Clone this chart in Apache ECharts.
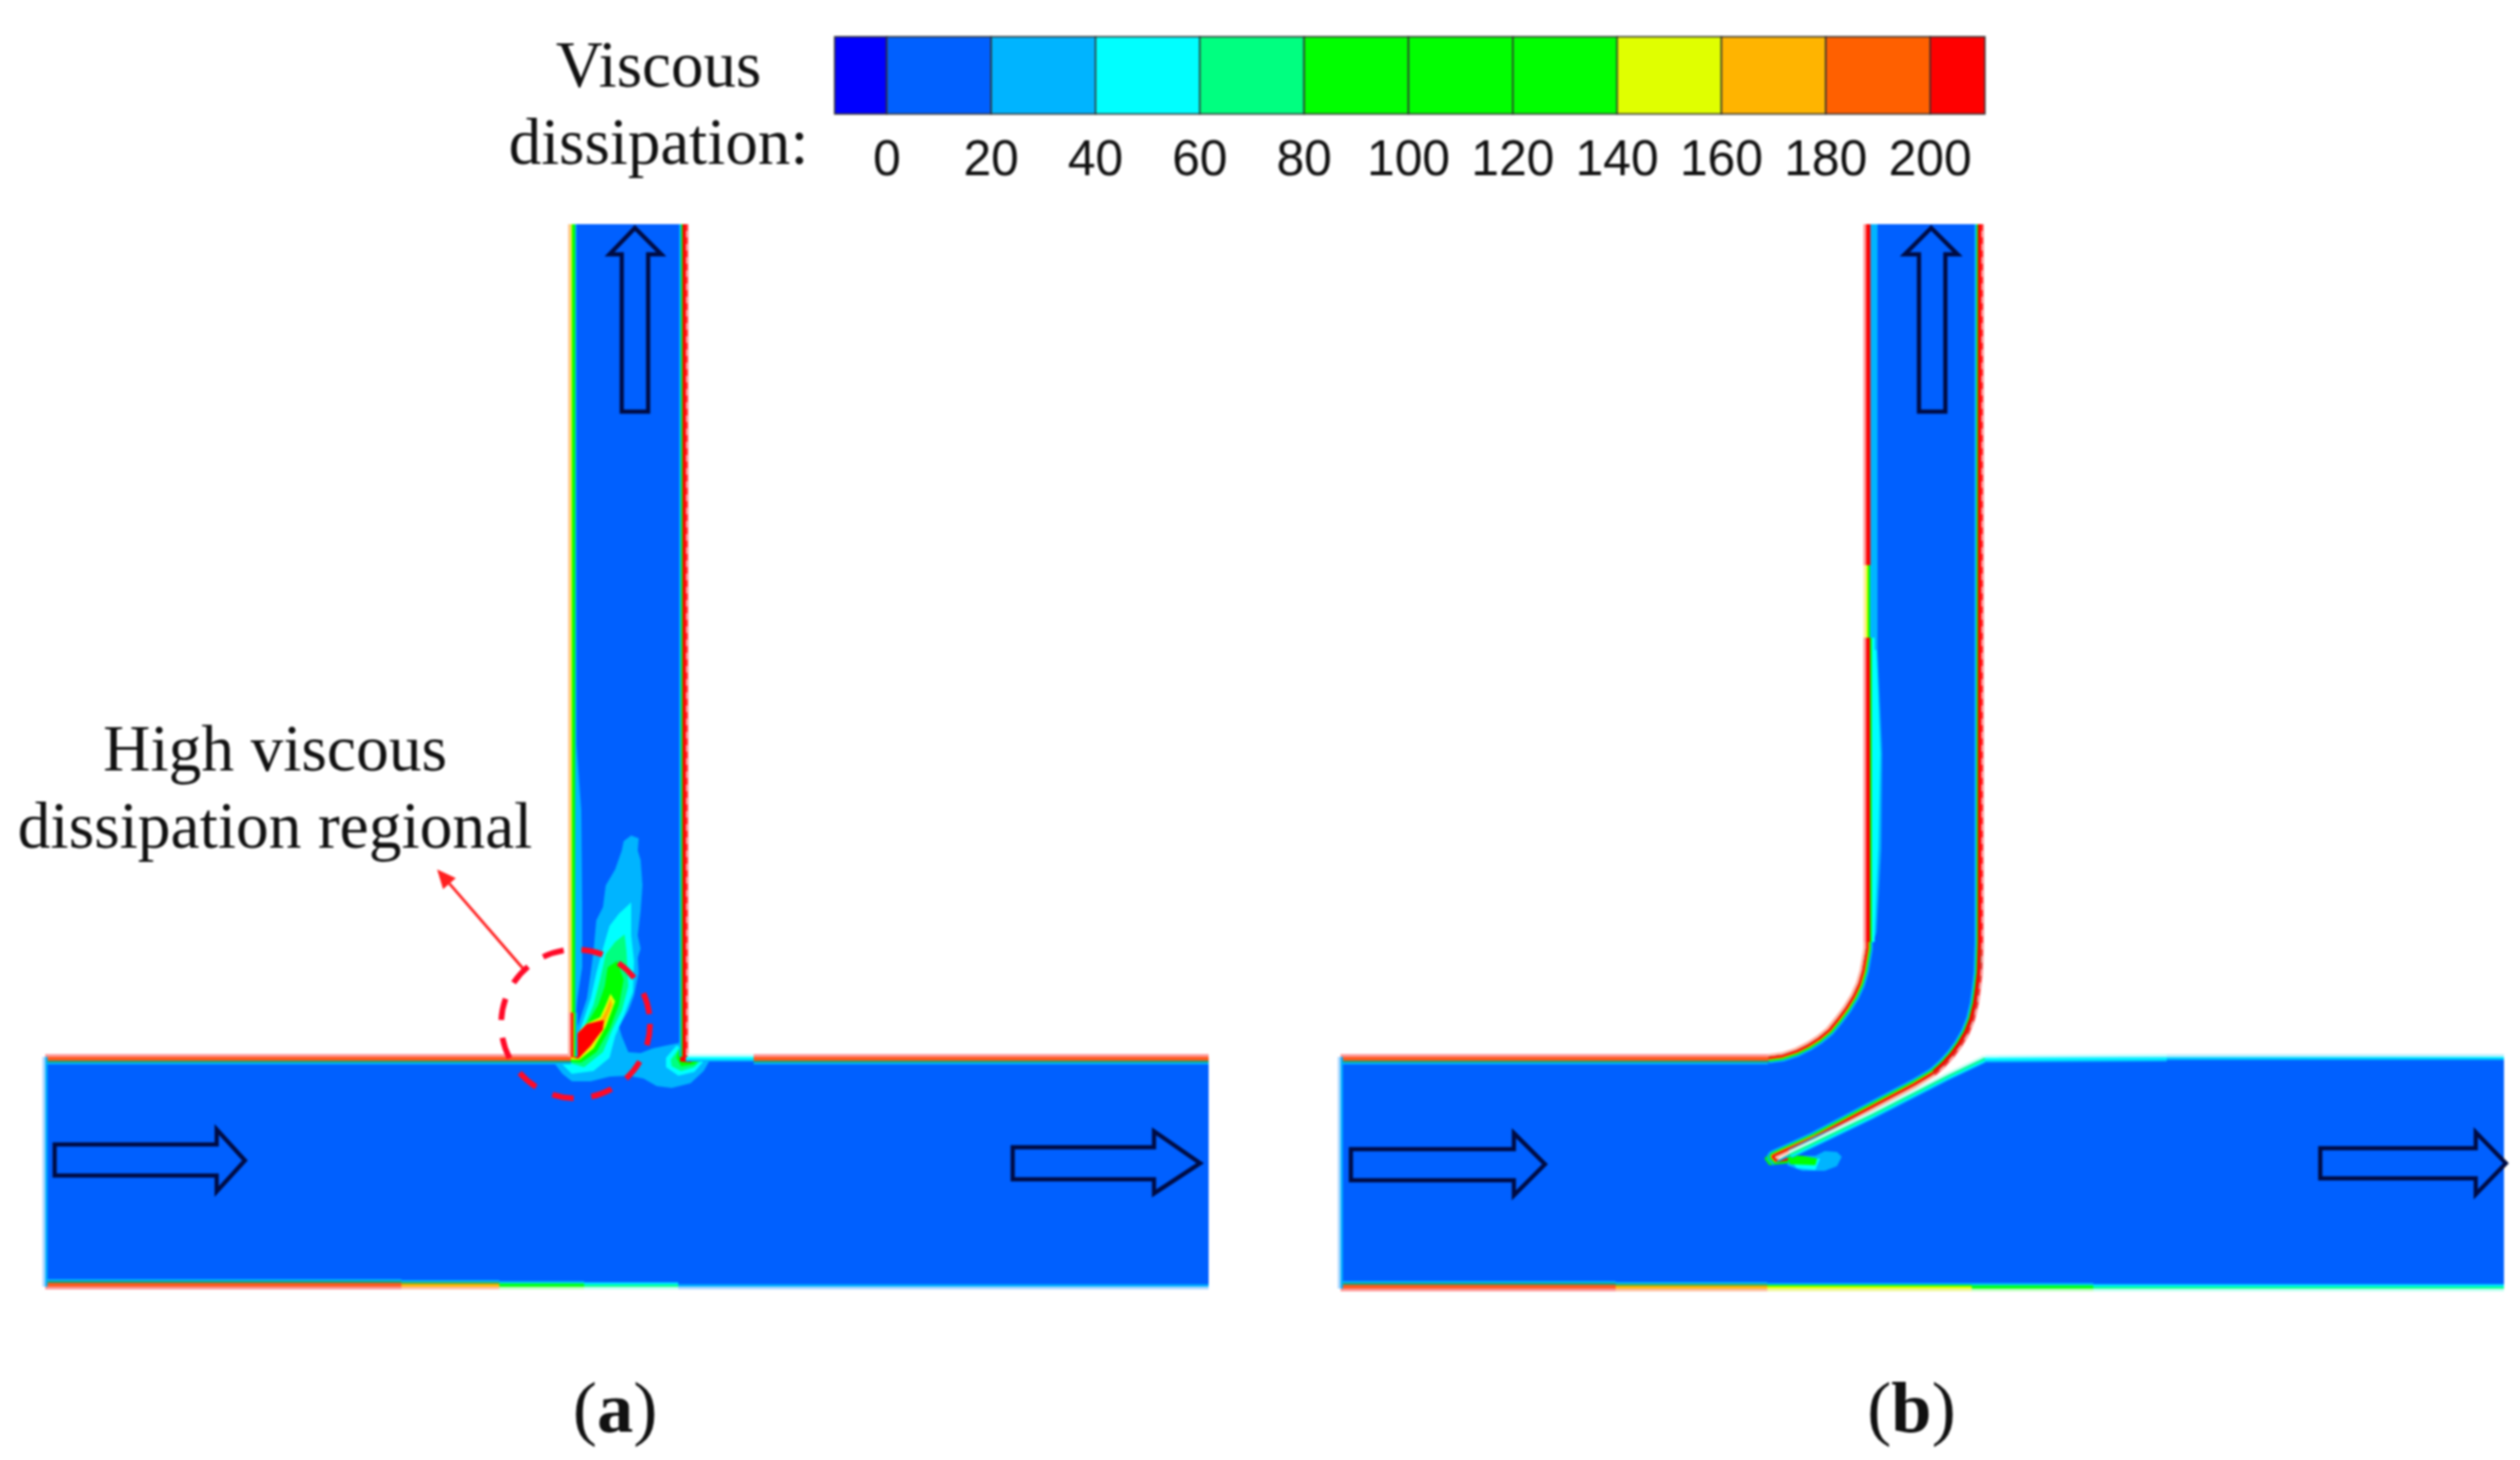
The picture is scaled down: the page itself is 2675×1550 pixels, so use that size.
<!DOCTYPE html>
<html>
<head>
<meta charset="utf-8">
<script src="https://cdn.jsdelivr.net/npm/echarts@6/dist/echarts.min.js"></script>
<style>
html,body{margin:0;padding:0;background:#fff}
#chart{width:2675px;height:1550px;filter:blur(0.8px)}
</style>
</head>
<body>
<div id="chart"></div>
<script>
// ---- colour bar ----
const legendEdges = [-10,0,20,40,60,80,100,120,140,160,180,200,210.5];
const legendColors = ['#0000FF','#0060FF','#00B4FF','#00FFFF','#00FF80','#00FF00','#00FF00','#00FF00','#E0FF00','#FFB400','#FF6000','#FF0000'];
const legendTicks = [0,20,40,60,80,100,120,140,160,180,200];
const legendTitle = 'Viscous\ndissipation:';
const calloutText = 'High viscous\ndissipation regional';

// ---- channel outlines (panel a, panel b) ----
const channelA = [[48,1122],[606,1122],[606,238],[728,238],[728,1122],[1283,1122],[1283,1366],[48,1366]];
const channelB = [[1423,1122],[1877,1122],[1892,1120],[1907,1115],[1919,1109],[1930,1102],[1941,1093],[1950,1082],[1959,1070],[1967,1057],[1973,1044],[1977,1030],[1981,1007],[1981,238],[2103,238],[2103,1000],[2102,1033],[2100,1050],[2098,1065],[2094,1082],[2088,1097],[2081,1109],[2073,1120],[2063,1131],[2053,1140],[2033,1152],[1980,1180],[1927,1208],[1883,1228],[1887,1232],[1900,1225],[1987,1183],[2067,1142],[2107,1123],[2658,1122],[2658,1368],[1423,1368]];

// ---- flow arrows ----
const arrowAUp = [[674,242],[702,270],[688,270],[688,437],[660,437],[660,270],[647,270]];
const arrowAIn = [[58,1215],[230,1215],[230,1199],[260,1232],[230,1265],[230,1248],[58,1248]];
const arrowAOut = [[1075,1218],[1225,1218],[1225,1201],[1274,1235],[1225,1267],[1225,1252],[1075,1252]];
const arrowBUp = [[2050,242],[2078,270],[2065,270],[2065,437],[2037,437],[2037,270],[2022,270]];
const arrowBIn = [[1434,1220],[1607,1220],[1607,1203],[1640,1236],[1607,1269],[1607,1253],[1434,1253]];
const arrowBOut = [[2463,1219],[2628,1219],[2628,1202],[2660,1235],[2628,1268],[2628,1251],[2463,1251]];

// ---- contour regions, panel a: wake plume behind the junction ----
const plumeA20 = [[587,1127],[597,1140],[607,1148],[627,1148],[647,1143],[667,1142],[683,1145],[697,1153],[713,1155],[733,1150],[747,1137],[755,1123],[723,1120],[722,1107],[707,1110],[693,1113],[680,1118],[667,1117],[660,1100],[657,1090],[667,1073],[673,1057],[678,1033],[677,1017],[680,1007],[677,993],[680,967],[682,940],[680,913],[677,903],[678,890],[670,887],[662,893],[660,903],[653,923],[643,940],[640,963],[633,977],[630,1010],[627,1033],[623,1060],[613,1090],[607,1120]];
const plumeA40 = [[597,1130],[607,1140],[630,1137],[647,1123],[653,1100],[663,1077],[672,1053],[673,1020],[670,993],[670,958],[657,970],[647,983],[640,1007],[633,1033],[627,1060],[617,1090],[610,1110]];
const plumeA60 = [[600,1127],[620,1133],[640,1117],[650,1093],[660,1073],[667,1047],[665,1010],[663,992],[653,1000],[643,1013],[637,1040],[630,1067],[620,1090],[610,1107]];
const plumeA80 = [[603,1127],[617,1128],[633,1117],[647,1093],[657,1067],[662,1040],[655,1020],[645,1027],[642,1047],[635,1067],[623,1087],[612,1103]];
const plumeA140 = [[605,1125],[615,1125],[630,1113],[643,1090],[653,1063],[648,1055],[643,1067],[637,1080],[622,1087],[610,1100]];
const plumeA160 = [[606,1123],[613,1123],[627,1112],[640,1090],[650,1067],[648,1060],[643,1073],[638,1082],[622,1088],[611,1101]];
const plumeA180 = [[606,1122],[614,1124],[627,1110],[640,1093],[641,1083],[623,1087],[612,1098],[608,1085]];
const cornerA40 = [[718,1110],[707,1123],[707,1133],[720,1142],[737,1138],[750,1123]];
const cornerA60 = [[721,1113],[712,1125],[713,1132],[723,1137],[737,1133],[747,1123]];
const cornerA80 = [[722,1110],[718,1123],[723,1132],[737,1130],[745,1123]];
const cornerA180 = [[722,1117],[722,1127],[733,1128],[742,1123],[728,1122]];
const stripA20 = [[606,238],[612,238],[612,790],[617,860],[618,960],[618,1027],[613,1060],[610,1093],[606,1100]];

// ---- contour regions, panel b ----
const stripB20 = [[1981,238],[1993,238],[1993,690],[1998,800],[1997,900],[1992,990],[1985,1010]];
const stripB40 = [[1981,690],[1992,690],[1996,800],[1994,900],[1990,990],[1982,1000]];
const tipB20 = [[1897,1237],[1913,1243],[1937,1243],[1950,1238],[1955,1228],[1950,1223],[1937,1222],[1927,1227],[1900,1227]];
const tipB40 = [[1900,1230],[1907,1240],[1927,1242],[1932,1230]];
const tipB80 = [[1897,1227],[1900,1236],[1927,1237],[1929,1230],[1913,1227]];
const tipBRing = [[1873,1230],[1878,1237],[1898,1235],[1900,1225],[1880,1222]];
const tipBCore = [[1878,1228],[1880,1235],[1898,1232],[1897,1227]];

// ---- wall boundary layers, panel a ----
const wallATopLeft = [[48,1122],[606,1122]];
const wallALeft = [[606,238],[606,1075]];
const wallALeftCorner = [[606,1075],[606,1122]];
const wallARight = [[728,238],[728,1122]];
const wallATopCold = [[728,1122],[800,1122]];
const wallATopHot = [[800,1122],[1283,1122]];
const wallABottom180 = [[48,1366],[426,1366]];
const wallABottom150 = [[426,1366],[530,1366]];
const wallABottom90 = [[530,1366],[620,1366]];
const wallABottom50 = [[620,1366],[720,1366]];
const wallABottom20 = [[720,1366],[1283,1366]];
const wallAInlet = [[48,1122],[48,1366]];

// ---- wall boundary layers, panel b ----
const wallBTopLeft = [[1423,1122],[1877,1122]];
const wallBFillet = [[1877,1122],[1892,1120],[1907,1115],[1919,1109],[1930,1102],[1941,1093],[1950,1082],[1959,1070],[1967,1057],[1973,1044],[1977,1030],[1981,1007],[1981,1000]];
const wallBLeftLow = [[1981,1000],[1981,677]];
const wallBLeftMid = [[1981,677],[1981,600]];
const wallBLeftHigh = [[1981,600],[1981,238]];
const wallBRight = [[2103,238],[2103,1000],[2102,1033],[2100,1050],[2098,1065],[2094,1082],[2088,1097],[2081,1109],[2073,1120],[2063,1131],[2053,1140]];
const wallBSliverUp = [[2053,1140],[2033,1152],[1980,1180],[1927,1208],[1883,1228],[1887,1232]];
const wallBSliverLow = [[1900,1225],[1987,1183],[2067,1142],[2107,1123]];
const wallBTopCold = [[2107,1123],[2300,1122]];
const wallBTopPale = [[2300,1122],[2658,1122]];
const wallBBottom180 = [[1423,1368],[1715,1368]];
const wallBBottom170 = [[1715,1368],[1876,1368]];
const wallBBottom150 = [[1876,1368],[2093,1368]];
const wallBBottom90 = [[2093,1368],[2222,1368]];
const wallBBottom50 = [[2222,1368],[2658,1368]];
const wallBInlet = [[1423,1122],[1423,1368]];

// ---- annotation ----
const leader = [[555,1028],[464,923]];
const regionCenter = [611,1087];

// ---------------- drawing ----------------
const LB='#00B4FF',CY='#00FFFF',MI='#00FF80',GR='#00FF00',YE='#E0FF00',OR='#FFB400',OD='#FF6000',RD='#FF0000',BLUE='#0060FF';
const STACKS = {
  hot:   {halo:'#FF9A9A', bands:[[LB,8],['#1B9E6B',6],['#FF5A1E',4]]},
  red:   {halo:'#FF9A9A', bands:[[LB,7],[GR,5],[RD,3.5]]},
  redLb: {halo:'#FF9A9A', bands:[[LB,10],[RD,4.5]]},
  redCy: {halo:'#FF9A9A', bands:[[CY,9],[GR,6],[RD,4]]},
  warm:  {halo:'#FFB0A0', bands:[[LB,7],[GR,5],[OR,3.2],[RD,2.2]]},
  leftG: {halo:'#FFC890', bands:[[GR,4.5],[YE,1.2]]},
  leftY: {halo:'#FFF0A0', bands:[[GR,4],[YE,1.8]]},
  orange:{halo:'#FFC0A0', bands:[[LB,7],['#3CB050',5],[OR,3]]},
  yellow:{halo:'#F0F8A0', bands:[[LB,6],[GR,4],[YE,2.5]]},
  green: {halo:'#C0FFC0', bands:[[LB,6],[MI,4],[GR,2.5]]},
  mint:  {halo:'#C0FFF0', bands:[[LB,5],[CY,3.5],[MI,2]]},
  cyan:  {halo:'#C0FFFF', bands:[[LB,5],[CY,3]]},
  thinCy:{halo:'#C0F0FF', bands:[[LB,3.5],[CY,1.5]]},
  pale:  {halo:'#B0D8FF', bands:[[LB,2.5]]}
};
const halos=[], body=[];
function fill(pts,color,clip){body.push({t:'fill',pts,color,clip});}
function wall(pts,stack,clip){
  const s=STACKS[stack];
  halos.push({t:'line',pts,color:s.halo,width:6});
  s.bands.forEach(b=>body.push({t:'line',pts,color:b[0],width:b[1]*2,clip}));
}
// base fills
fill(channelA,BLUE); fill(channelB,BLUE);
// panel a plumes
[[stripA20,LB],[plumeA20,LB],[cornerA40,CY],[plumeA40,CY],[cornerA60,MI],[plumeA60,MI],[cornerA80,GR],[plumeA80,GR],[plumeA140,YE],[plumeA160,OR],[cornerA180,RD],[plumeA180,RD]]
  .forEach(p=>fill(p[0],p[1],channelA));
// panel b plumes
[[stripB20,LB],[stripB40,CY],[tipB20,LB],[tipB40,CY],[tipB80,GR],[tipBRing,GR],[tipBCore,RD]]
  .forEach(p=>fill(p[0],p[1],channelB));
// walls a
[[wallATopLeft,'hot'],[wallALeft,'leftG'],[wallALeftCorner,'warm'],[wallARight,'red'],[wallATopCold,'cyan'],[wallATopHot,'hot'],
 [wallABottom180,'hot'],[wallABottom150,'orange'],[wallABottom90,'green'],[wallABottom50,'mint'],[wallABottom20,'pale'],[wallAInlet,'pale']]
  .forEach(w=>wall(w[0],w[1],channelA));
// walls b
[[wallBTopLeft,'hot'],[wallBFillet,'warm'],[wallBLeftLow,'redCy'],[wallBLeftMid,'leftY'],[wallBLeftHigh,'redLb'],[wallBRight,'red'],
 [wallBSliverUp,'warm'],[wallBSliverLow,'mint'],[wallBTopCold,'cyan'],[wallBTopPale,'thinCy'],
 [wallBBottom180,'hot'],[wallBBottom170,'orange'],[wallBBottom150,'yellow'],[wallBBottom90,'green'],[wallBBottom50,'mint'],[wallBInlet,'pale']]
  .forEach(w=>wall(w[0],w[1],channelB));
// mottled outer edge of the right-hand walls
[wallARight,wallBRight].forEach(p=>halos.push({t:'dash',pts:p,color:'#FF3030',width:4}));
// flow arrows
[arrowAUp,arrowAIn,arrowAOut,arrowBUp,arrowBIn,arrowBOut].forEach(a=>body.push({t:'arrow',pts:a}));
const marks=halos.concat(body);

function renderMark(params,api){
  const m=marks[params.dataIndex];
  const P=m.pts.map(p=>api.coord(p));
  let el;
  if(m.t==='fill') el={type:'polygon',shape:{points:P},style:{fill:m.color}};
  else if(m.t==='arrow') el={type:'polygon',shape:{points:P},style:{fill:null,stroke:'#000C44',lineWidth:4.5,lineJoin:'miter'}};
  else if(m.t==='dash') el={type:'polyline',shape:{points:P},style:{fill:null,stroke:m.color,lineWidth:m.width,lineDash:[7,7]}};
  else el={type:'polyline',shape:{points:P},style:{fill:null,stroke:m.color,lineWidth:m.width,lineCap:'butt',lineJoin:'round'}};
  if(m.clip) el.clipPath={type:'polygon',shape:{points:m.clip.map(p=>api.coord(p))}};
  el.silent=true;
  return el;
}
function renderLegend(params,api){
  const i=params.dataIndex;
  const a=api.coord([legendEdges[i],1]), b=api.coord([legendEdges[i+1],0]);
  return {type:'rect',shape:{x:a[0],y:a[1],width:b[0]-a[0],height:b[1]-a[1]},
    style:{fill:legendColors[i],stroke:'#333',lineWidth:1.5}};
}
function renderNotes(params,api){
  const A=api.coord(leader[0]),B=api.coord(leader[1]),C=api.coord(regionCenter);
  const ang=Math.atan2(B[1]-A[1],B[0]-A[0]),L=20,W=9;
  const bx=B[0]-L*Math.cos(ang),by=B[1]-L*Math.sin(ang);
  const nx=-Math.sin(ang),ny=Math.cos(ang);
  const serif='"Liberation Serif","Times New Roman",serif';
  const txt=(p,t,size,extra)=>({type:'text',x:api.coord(p)[0],y:api.coord(p)[1],
    style:Object.assign({text:t,fill:'#111',font:size+'px '+serif,fontFamily:serif,fontSize:size,align:'center',verticalAlign:'middle',lineHeight:82},extra||{})});
  return {type:'group',children:[
    {type:'circle',shape:{cx:C[0],cy:C[1],r:79},style:{fill:null,stroke:'#FF0A28',lineWidth:6,lineDash:[23,19]}},
    {type:'polyline',shape:{points:[A,[bx,by]]},style:{fill:null,stroke:'#FF2020',lineWidth:3}},
    {type:'polygon',shape:{points:[B,[bx+nx*W,by+ny*W],[bx-nx*W,by-ny*W]]},style:{fill:'#FF2020'}},
    txt([699,115],legendTitle,69),
    txt([292,841],calloutText,69.5),
    txt([653,1500],'({b|a})',77,{rich:{b:{fontWeight:'bold',fontFamily:serif,fontSize:77}}}),
    txt([2029,1500],'({b|b})',77,{rich:{b:{fontWeight:'bold',fontFamily:serif,fontSize:77}}})
  ]};
}

const chart=echarts.init(document.getElementById('chart'),null,{renderer:'canvas'});
chart.setOption({
  animation:false,
  backgroundColor:'#fff',
  grid:[
    {left:0,right:0,top:0,bottom:0,containLabel:false},
    {left:886,top:39,width:1221,height:82,containLabel:false}
  ],
  xAxis:[
    {gridIndex:0,type:'value',min:0,max:2675,show:false},
    {gridIndex:1,type:'value',min:legendEdges[0],max:legendEdges[legendEdges.length-1],
     axisLine:{show:false},axisTick:{show:false},splitLine:{show:false},
     axisLabel:{customValues:legendTicks,margin:24,fontSize:53,color:'#111',fontFamily:'"Liberation Sans",Arial,sans-serif',hideOverlap:false}}
  ],
  yAxis:[
    {gridIndex:0,type:'value',min:0,max:1550,inverse:true,show:false},
    {gridIndex:1,type:'value',min:0,max:1,show:false}
  ],
  series:[
    {type:'custom',name:'flow field',xAxisIndex:0,yAxisIndex:0,clip:false,silent:true,renderItem:renderMark,data:marks.map((m,i)=>[i,0])},
    {type:'custom',name:'colour bar',xAxisIndex:1,yAxisIndex:1,clip:false,silent:true,renderItem:renderLegend,data:legendColors.map((c,i)=>[legendEdges[i],0])},
    {type:'custom',name:'notes',xAxisIndex:0,yAxisIndex:0,clip:false,silent:true,renderItem:renderNotes,data:[[0,0]]}
  ]
});
</script>
</body>
</html>
